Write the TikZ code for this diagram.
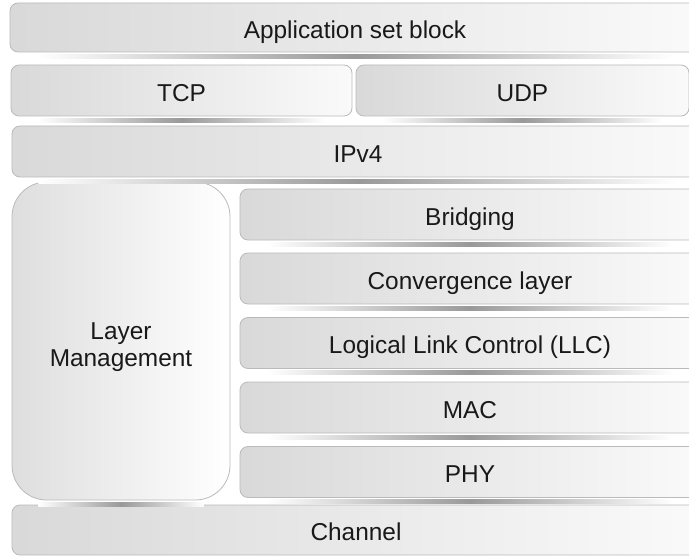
\documentclass[tikz,border=0pt]{standalone}
\usepackage{fontspec}
\setmainfont{Liberation Sans}
\begin{document}
\begin{tikzpicture}[x=0.75pt,y=-0.75pt,
layer/.style={rectangle,rounded corners=6pt,draw=black!27,line width=0.6pt,left color=black!15,right color=black!2,inner sep=0pt,minimum height=38.25pt,text height=16.4pt,text depth=0.4pt,text=black!90,font=\fontsize{18.3}{20.5}\selectfont},
side/.style={layer,rounded corners=26pt,align=center,text height=42pt,text depth=3.9pt,left color=black!13,right color=white}]

\clip (0,0) rectangle (689,556);
\fill [white] (0,0) rectangle (689,556);

\node (app) at (355,27.5) [layer,minimum width=517.5pt,minimum height=36.75pt] {Application set block};

\node (tcp) at (181.5,90.5) [layer,minimum width=255.75pt] {TCP};
\node (udp) at (522.5,90.5) [layer,minimum width=249.75pt] {UDP};

\node (ipv) at (358,151.5) [layer,minimum width=519pt] {IPv4};

\node (lm) at (121,341) [side,minimum width=163.5pt,minimum height=238.5pt] {Layer\\Management};

\node (br) at (470,214.5) [layer,minimum width=345pt] {Bridging};
\node (conv) at (470,278.5) [layer,minimum width=345pt] {Convergence layer};
\node (llc) at (470,343) [layer,minimum width=345pt] {Logical Link Control (LLC)};
\node (mac) at (470,407.5) [layer,minimum width=345pt] {MAC};
\node (phy) at (470,472) [layer,minimum width=345pt] {PHY};

\node (ch) at (356,530) [layer,minimum width=516pt,minimum height=37.5pt] {Channel};

\foreach \n in {app,tcp,udp,ipv,lm,br,conv,llc,mac,phy}
  \shade [left color=white,right color=white,middle color=black!40]
    ([xshift=20pt,yshift=-1.5pt]\n.south west) rectangle ([xshift=-20pt,yshift=-4.5pt]\n.south east);

\end{tikzpicture}
\end{document}
